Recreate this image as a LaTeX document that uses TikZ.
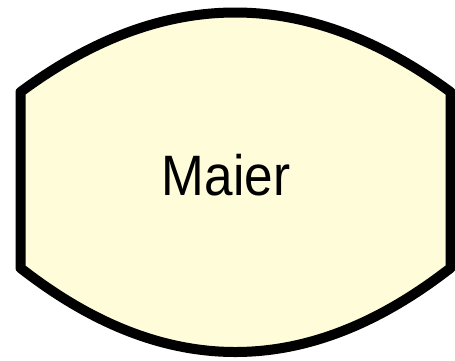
\documentclass[tikz,border=0pt]{standalone}
\usepackage{fontspec}
\setmainfont{Liberation Sans}
\definecolor{fillyellow}{HTML}{FFFCDA}
\begin{document}
\begin{tikzpicture}[x=1pt,y=-1pt,
  outline/.style={draw=black,line width=10pt,fill=fillyellow,line join=round},
  label/.style={font=\fontsize{57}{62}\selectfont,text=black,inner sep=0pt}]
\useasboundingbox (0,0) rectangle (455,360);
\path[outline] (20.5,92) .. controls (163.7,-14) and (306.7,-14) .. (450.5,92) -- (450.5,268)
  .. controls (306.7,380) and (163.7,380) .. (20.5,268) -- cycle;
\node[label,anchor=base] (name) at (226,195) {\scalebox{0.9}[1]{Maier}};
\end{tikzpicture}
\end{document}
